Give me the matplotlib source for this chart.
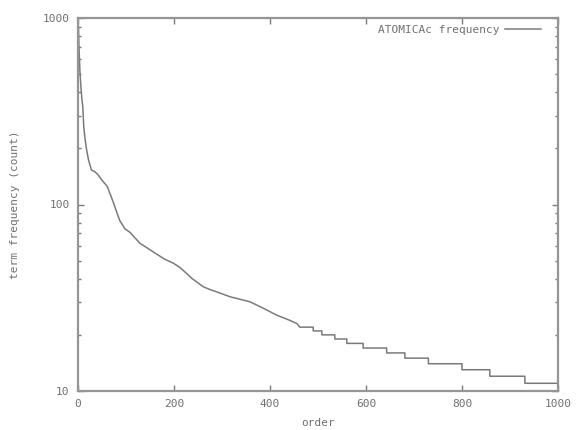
import numpy as np
import matplotlib
matplotlib.use("Agg")
import matplotlib.pyplot as plt
from matplotlib.ticker import LogLocator, NullFormatter, FixedLocator

# head of the curve (smooth part): rank, count
head_order = [1, 2, 4, 6, 8, 10, 12, 15, 18, 22, 28, 35, 42, 50, 61, 68, 74, 80, 87, 98,
              108, 129, 160, 180, 199, 212, 225, 237, 250, 261, 275, 289, 317, 358, 386,
              414, 440, 456]
head_freq = [900, 700, 520, 430, 370, 334, 260, 222, 196, 173, 153, 150, 144, 135, 125,
             112, 102, 92, 82, 74, 71, 62, 55, 51, 48.4, 46, 43, 40.2, 38, 36.2, 35, 34,
             32, 30.1, 27.8, 25.5, 24, 23]
# tail of the curve (integer steps): step start rank, count
tail_order = [462, 490, 508, 535, 560, 594, 643, 681, 730, 800, 858, 931, 1000]
tail_freq = [22, 21, 20, 19, 18, 17, 16, 15, 14, 13, 12, 11, 11]

x_ticks = [0, 200, 400, 600, 800, 1000]
y_ticks = [10, 100, 1000]
legend_label = "ATOMICAc frequency"
x_label = "order"
y_label = "term frequency (count)"

# build the stepped tail
tx = np.repeat(tail_order, 2)[1:]
ty = np.repeat(tail_freq, 2)[:-1]
xs = np.concatenate([head_order, tx])
ys = np.concatenate([head_freq, ty])

gray = "#7a7a7a"
txt = "#707070"
fam = "DejaVu Sans Mono"
fs = 8

fig = plt.figure(figsize=(5.76, 4.30), dpi=100)
ax = fig.add_axes([78/576, 1-391/430, (558-78)/576, (391-18)/430])
ax.plot(xs, ys, color=gray, lw=1.1, label=legend_label)
ax.set_yscale("log")
ax.set_xlim(0, 1000)
ax.set_ylim(10, 1000)

ax.xaxis.set_major_locator(FixedLocator(x_ticks))
ax.set_xticklabels([str(v) for v in x_ticks], family=fam, fontsize=fs, color=txt)
ax.yaxis.set_major_locator(FixedLocator(y_ticks))
ax.set_yticklabels([str(v) for v in y_ticks], family=fam, fontsize=fs, color=txt)
ax.yaxis.set_minor_locator(LogLocator(base=10, subs=np.arange(2, 10)))
ax.yaxis.set_minor_formatter(NullFormatter())

ax.tick_params(which="both", direction="in", top=True, right=True, color=gray)
ax.tick_params(which="major", length=4, width=1, pad=6)
ax.tick_params(which="minor", length=2.5, width=1)
for s in ax.spines.values():
    s.set_color("#959595")
    s.set_linewidth(1.6)

ax.set_xlabel(x_label, family=fam, fontsize=fs, color=txt, labelpad=6)
ax.set_ylabel(y_label, family=fam, fontsize=fs, color=txt, labelpad=16)

leg = ax.legend(loc="upper right", bbox_to_anchor=(0.985, 1.008), frameon=False,
                handlelength=3.2, handletextpad=0.5, markerfirst=False,
                borderaxespad=0.5, prop={"family": fam, "size": fs})
for t in leg.get_texts():
    t.set_color(txt)

fig.savefig("out.png", dpi=100)
